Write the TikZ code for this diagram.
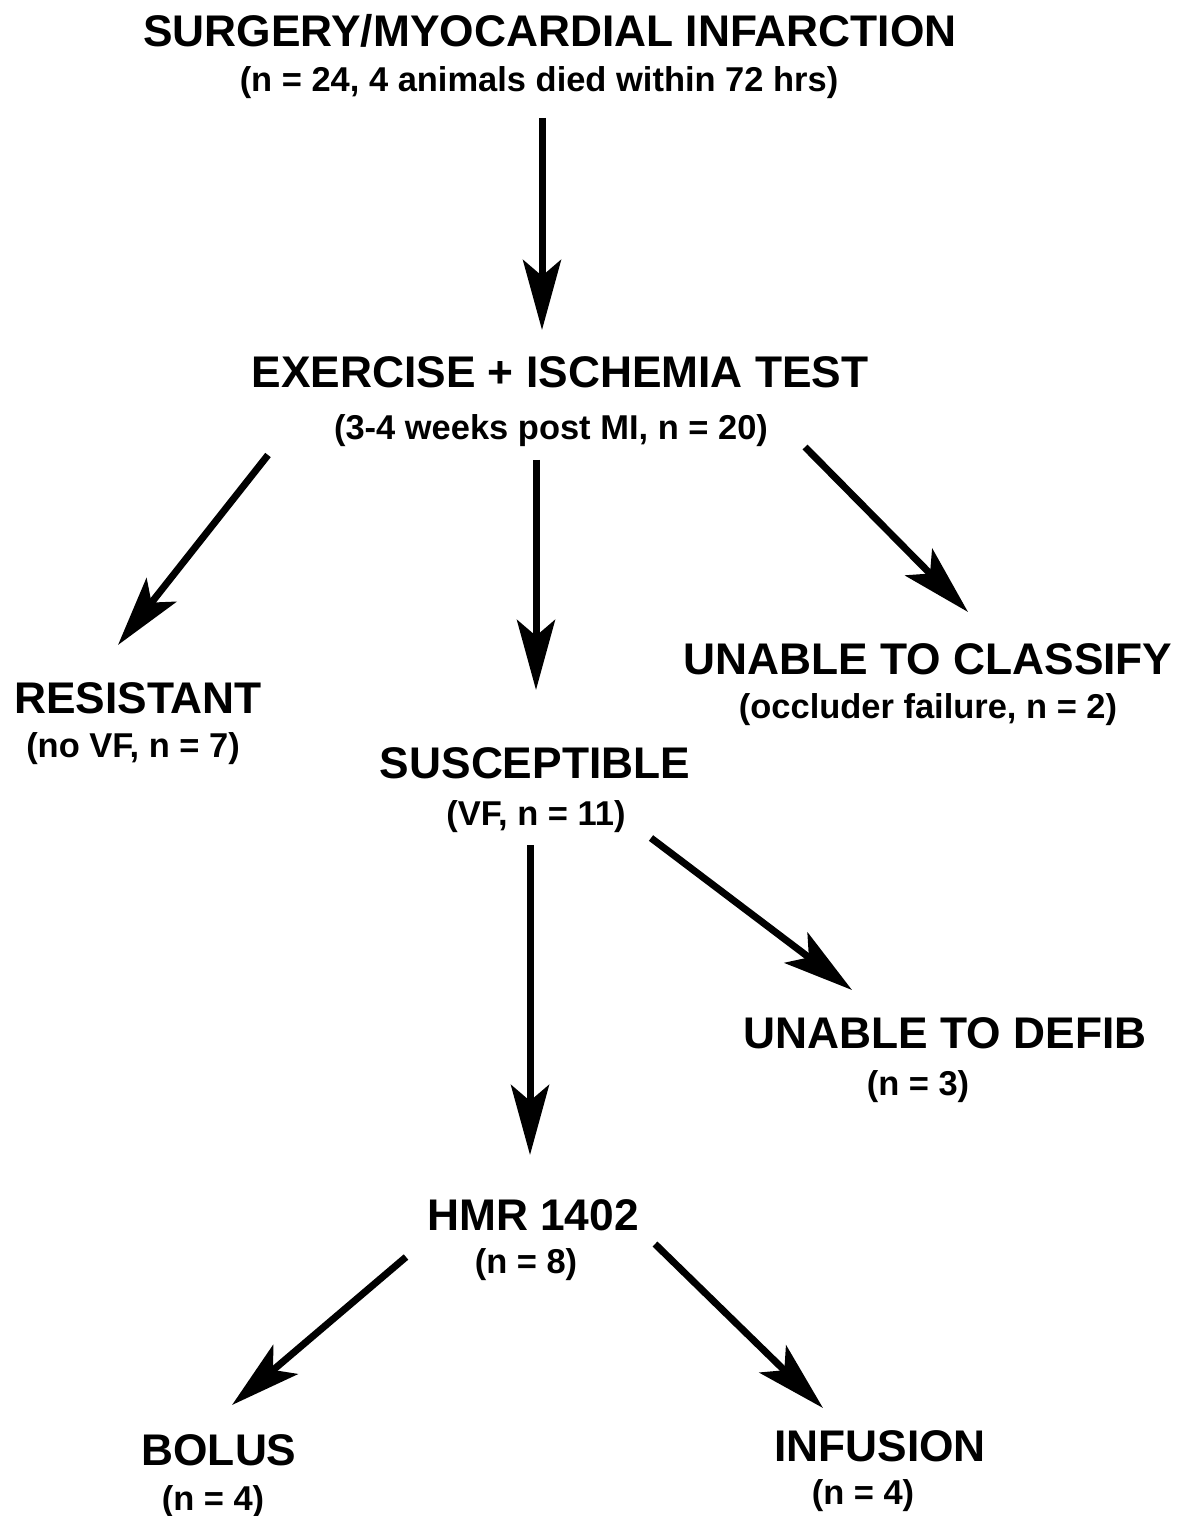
\documentclass[tikz,border=0pt]{standalone}
\usepackage{fontspec}
\setmainfont{Liberation Sans}
\usetikzlibrary{arrows.meta}
\begin{document}
\begin{tikzpicture}[x=0.01cm, y=-0.01cm, >={Stealth[length=0.7cm, width=0.38cm, inset=0.16cm]},
    line width=0.07cm,
    ttl/.style={anchor=base, inner sep=0, font=\fontsize{12.6}{14}\selectfont\bfseries},
    sub/.style={anchor=base, inner sep=0, font=\fontsize{9.8}{11}\selectfont\bfseries}]
    \useasboundingbox (0,0) rectangle (1183,1516);
    % 1. top stages
    \node[ttl] (surg) at (550,47) {SURGERY/MYOCARDIAL INFARCTION};
    \node[sub] (surgn) at (539,92) {(n = 24, 4 animals died within 72 hrs)};
    \node[ttl] (exer) at (560,388) {EXERCISE + ISCHEMIA TEST};
    \node[sub] (exern) at (551,440) {(3-4 weeks post MI, n = 20)};
    
    % 2. test outcomes
    \node[ttl] (res) at (138,713) {RESISTANT};
    \node[sub] (resn) at (133,757) {(no VF, n = 7)};
    \node[ttl] (susc) at (535,778) {SUSCEPTIBLE};
    \node[sub] (suscn) at (536,825) {(VF, n = 11)};
    \node[ttl] (uncl) at (928,674) {UNABLE TO CLASSIFY};
    \node[sub] (ucln) at (928,718) {(occluder failure, n = 2)};
    
    % 3. susceptible group
    \node[ttl] (undef) at (945,1048) {UNABLE TO DEFIB};
    \node[sub] (undefn) at (918,1095) {(n = 3)};
    \node[ttl] (hmr) at (533,1230) {HMR 1402};
    \node[sub] (hmrn) at (526,1273) {(n = 8)};
    
    % 4. dosing
    \node[ttl] (bol) at (219,1465) {BOLUS};
    \node[sub] (boln) at (213,1510) {(n = 4)};
    \node[ttl] (inf) at (880,1461) {INFUSION};
    \node[sub] (infn) at (863,1504) {(n = 4)};
    
    % 5. arrow ends
    \coordinate (a1) at (542,118);  \coordinate (b1) at (542,330);
    \coordinate (a2) at (268,455);  \coordinate (b2) at (118,645);
    \coordinate (a3) at (536,460);  \coordinate (b3) at (536,690);
    \coordinate (a4) at (805,447);  \coordinate (b4) at (968,612);
    \coordinate (a5) at (530,845);  \coordinate (b5) at (530,1155);
    \coordinate (a6) at (651,838);  \coordinate (b6) at (852,990);
    \coordinate (a7) at (406,1257); \coordinate (b7) at (232,1405);
    \coordinate (a8) at (655,1244); \coordinate (b8) at (823,1408);
    \foreach \i in {1,...,8}
        \draw[->] (a\i) -- (b\i);
\end{tikzpicture}
\end{document}
